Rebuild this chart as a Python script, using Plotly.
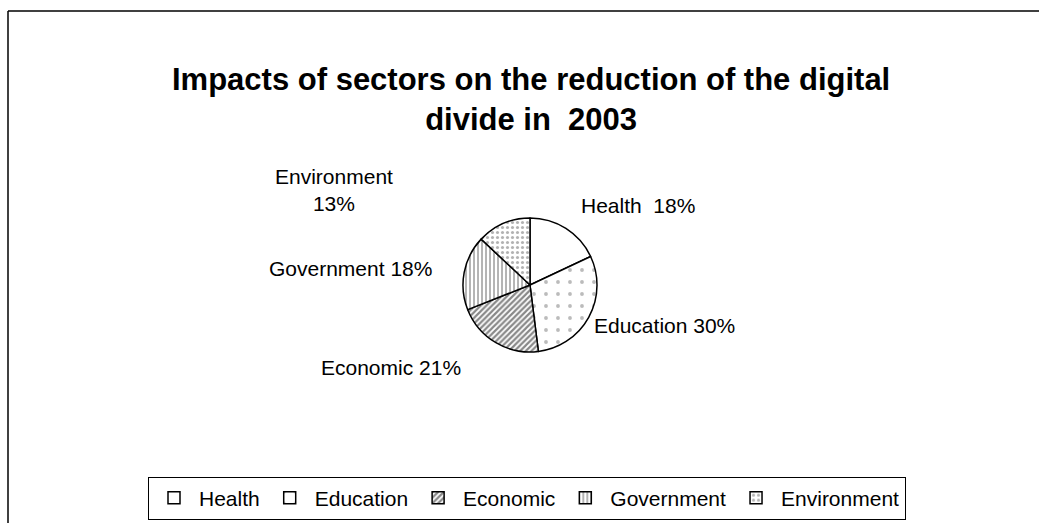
import plotly.graph_objects as go

# Sector shares (%) of the reduction of the digital divide, 2003
sectors = ["Health", "Education", "Economic", "Government", "Environment"]
shares = [18, 30, 21, 18, 13]

# Fill patterns per sector
pattern_shapes = ["", ".", "/", "|", "."]
pattern_sizes = [8, 12, 4, 4, 5]
pattern_solidity = [0.2, 0.08, 0.55, 0.4, 0.3]
pattern_fg = ["#333333", "#777777", "#111111", "#444444", "#666666"]

W, H = 1039, 523
FONT = "Arial, Liberation Sans, sans-serif"


def px(x):
    return x / W


def py(y):
    return 1 - y / H


# Pie centre and radius in pixels
cx, cy, r = 530, 285, 67

fig = go.Figure(
    go.Pie(
        labels=sectors,
        values=shares,
        sort=False,
        direction="clockwise",
        rotation=0,
        textinfo="none",
        hoverinfo="label+percent",
        marker=dict(
            colors=["white"] * len(sectors),
            line=dict(color="black", width=1.5),
            pattern=dict(
                shape=pattern_shapes,
                size=pattern_sizes,
                solidity=pattern_solidity,
                fgcolor=pattern_fg,
                bgcolor="white",
                fillmode="overlay",
            ),
        ),
        domain=dict(x=[px(cx - r), px(cx + r)], y=[py(cy + r), py(cy - r)]),
    )
)

# Data labels: "<sector> <share>%" placed around the pie
label_pos = {
    "Health": (638, 205),
    "Education": (664, 325),
    "Economic": (391, 367),
    "Government": (350, 268),
    "Environment": (334, 190),
}
annotations = []
for name, val in zip(sectors, shares):
    sep = "<br>" if name == "Environment" else ("&nbsp; " if name == "Health" else " ")
    x, y = label_pos[name]
    annotations.append(
        dict(
            x=px(x), y=py(y), xref="paper", yref="paper",
            text=f"{name}{sep}{val}%",
            showarrow=False, xanchor="center", yanchor="middle",
            font=dict(family=FONT, size=21, color="black"),
        )
    )

# Chart title
annotations.append(
    dict(
        x=px(531), y=py(100), xref="paper", yref="paper",
        text="<b>Impacts of sectors on the reduction of the digital<br>divide in&nbsp; 2003</b>",
        showarrow=False, xanchor="center", yanchor="middle",
        font=dict(family=FONT, size=31, color="black"),
    )
)

fig.update_layout(
    width=W,
    height=H,
    margin=dict(l=0, r=0, t=0, b=0),
    paper_bgcolor="white",
    plot_bgcolor="white",
    annotations=annotations,
    showlegend=True,
    legend=dict(
        orientation="h",
        x=px(527), y=py(498), xanchor="center", yanchor="middle",
        bordercolor="black", borderwidth=1,
        font=dict(family=FONT, size=21, color="black"),
        itemwidth=40,
        traceorder="normal",
    ),
    shapes=[
        # chart frame
        dict(type="line", xref="paper", yref="paper",
             x0=px(8), y0=py(11), x1=1.0, y1=py(11),
             line=dict(color="black", width=1.5)),
        dict(type="line", xref="paper", yref="paper",
             x0=px(8), y0=py(11), x1=px(8), y1=0,
             line=dict(color="black", width=1.5)),
    ],
)

fig.write_html("out.html")
